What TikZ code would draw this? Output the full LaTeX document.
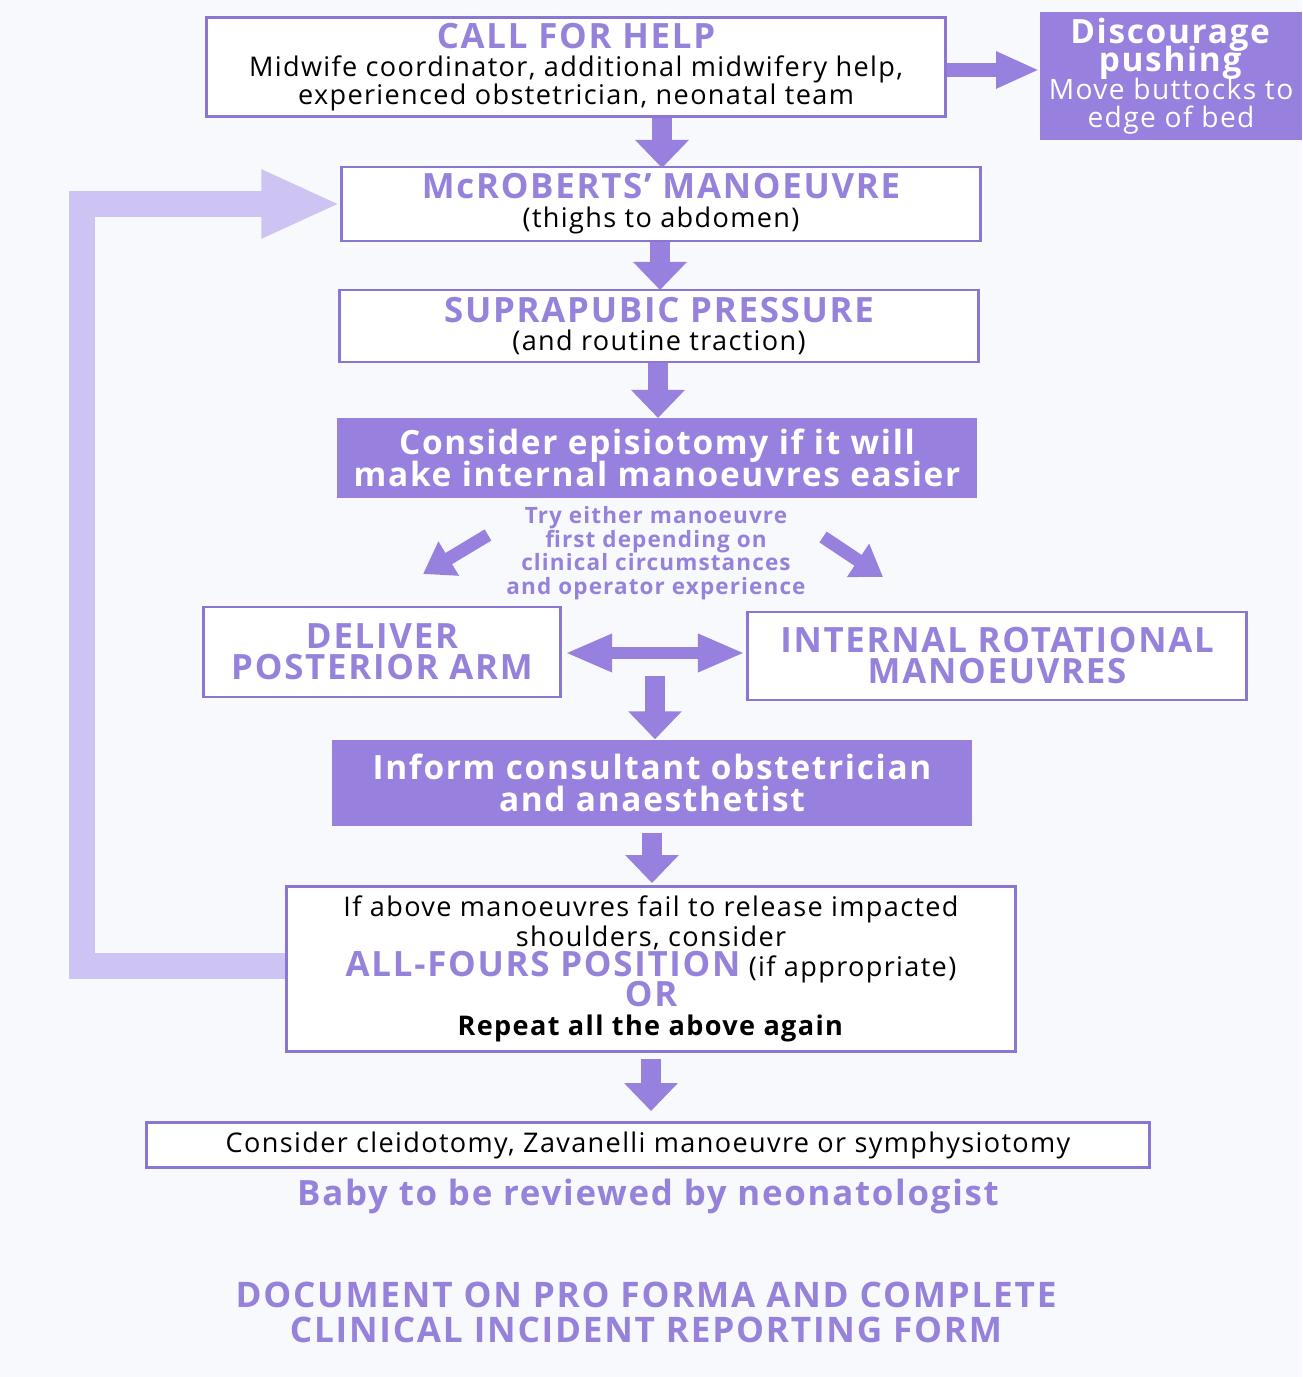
\documentclass[tikz,border=0pt]{standalone}
\usepackage{fontspec}
\setmainfont{Open Sans}[LetterSpace=5]
\usetikzlibrary{arrows.meta}
\definecolor{pmain}{RGB}{152,128,222}
\definecolor{ptext}{RGB}{150,130,218}
\definecolor{pline}{RGB}{140,118,212}
\definecolor{ploop}{RGB}{206,196,243}
\definecolor{paper}{RGB}{248,249,253}
\lineskiplimit=-100pt
\newcommand{\headtxt}[1]{{\fontsize{9.9}{10}\selectfont\bfseries\color{ptext}#1}}

\tikzset{
  stepbox/.style={draw=pline, line width=0.8pt, fill=white, align=center, inner sep=0pt,
    font=\fontsize{7.7}{8}\selectfont},
  darkbox/.style={fill=pmain, text=white, align=center, inner sep=0pt,
    font=\fontsize{9.5}{9}\selectfont\bfseries},
  blockarrow/.style={pmain, line width=0.2cm, -{Triangle[length=0.28cm,width=0.52cm]}},
  thinarrow/.style={pmain, line width=0.14cm, -{Triangle[length=0.43cm,width=0.34cm]}},
  sidearrow/.style={pmain, line width=0.13cm, -{Triangle[length=0.3cm,width=0.38cm]}},
  looparrow/.style={ploop, line width=0.26cm, -{Triangle[length=0.79cm,width=0.63cm]}}
}

\begin{document}
\begin{tikzpicture}[x=0.01cm,y=-0.01cm]
  \useasboundingbox (0,0) rectangle (1302,1377);
  \fill[paper] (0,0) rectangle (1302,1377);

  % boxes
  \node[stepbox, minimum width=7.39cm, minimum height=0.99cm, font=\fontsize{7.7}{7.9}\selectfont] (help) at (576,67)
    {\headtxt{CALL FOR HELP}\\ Midwife coordinator, additional midwifery help,\\ experienced obstetrician, neonatal team};
  \node[darkbox, minimum width=2.62cm, minimum height=1.28cm, font=\fontsize{9.5}{8}\selectfont] (disc) at (1171,76)
    {\textbf{Discourage}\\ \textbf{pushing}\\ {\fontsize{8}{8}\selectfont Move buttocks to}\\ {\fontsize{8}{8}\selectfont edge of bed}};
  \node[stepbox, minimum width=6.38cm, minimum height=0.74cm, font=\fontsize{7.7}{8.2}\selectfont] (mcr) at (661,204)
    {\headtxt{McROBERTS’ MANOEUVRE}\\ (thighs to abdomen)};
  \node[stepbox, minimum width=6.38cm, minimum height=0.72cm, font=\fontsize{7.7}{8.2}\selectfont] (supra) at (659,326)
    {\headtxt{SUPRAPUBIC PRESSURE}\\ (and routine traction)};
  \node[darkbox, minimum width=6.40cm, minimum height=0.80cm] (episio) at (657,458)
    {Consider episiotomy if it will\\ make internal manoeuvres easier};
  \node[align=center, text=ptext, font=\fontsize{6.4}{6.7}\selectfont\bfseries] (either) at (656,553)
    {Try either manoeuvre\\ first depending on\\ clinical circumstances\\ and operator experience};
  \node[stepbox, minimum width=3.57cm, minimum height=0.90cm, font=\fontsize{9.9}{8.8}\selectfont\bfseries, text=ptext] (deliver) at (382,652)
    {DELIVER\\ POSTERIOR ARM};
  \node[stepbox, minimum width=4.99cm, minimum height=0.88cm, font=\fontsize{9.9}{8.8}\selectfont\bfseries, text=ptext] (internal) at (997,656)
    {INTERNAL ROTATIONAL\\ MANOEUVRES};
  \node[darkbox, minimum width=6.39cm, minimum height=0.86cm] (inform) at (652,783)
    {Inform consultant obstetrician\\ and anaesthetist};
  \node[stepbox, minimum width=7.28cm, minimum height=1.65cm, font=\fontsize{7.7}{8.5}\selectfont] (ifbox) at (651,969)
    {If above manoeuvres fail to release impacted\\ shoulders, consider\\
     \headtxt{ALL-FOURS POSITION} (if appropriate)\\ \headtxt{OR}\\ \textbf{Repeat all the above again}};
  \node[stepbox, minimum width=10.02cm, minimum height=0.45cm] (cleido) at (648,1145)
    {Consider cleidotomy, Zavanelli manoeuvre or symphysiotomy};
  \node[text=ptext, font=\fontsize{9.9}{10}\selectfont\bfseries] (baby) at (648,1196)
    {Baby to be reviewed by neonatologist};
  \node[align=center, text=ptext, font=\fontsize{10}{10}\selectfont\bfseries] (document) at (646,1312)
    {DOCUMENT ON PRO FORMA AND COMPLETE\\ CLINICAL INCIDENT REPORTING FORM};

  % arrows
  \draw[blockarrow] (help.south -| 662,0) -- (662,168);
  \draw[thinarrow] (help.east |- 0,70) -- (disc.west |- 0,70);
  \draw[blockarrow] (mcr.south -| 660,0) -- (660,290);
  \draw[blockarrow] (supra.south -| 658,0) -- (658,418);
  \coordinate (tl) at (488,535);
  \coordinate (bl) at (423,574);
  \coordinate (tr) at (823,537);
  \coordinate (br) at (883,577);
  \draw[sidearrow] (tl) -- (bl);
  \draw[sidearrow] (tr) -- (br);
  \draw[pmain, line width=0.12cm, {Triangle[length=0.47cm,width=0.35cm]}-{Triangle[length=0.47cm,width=0.35cm]}]
    (565,653) -- (745,653);
  \coordinate (split) at (655,676);
  \draw[blockarrow] (split) -- (split |- inform.north);
  \draw[blockarrow] ([yshift=-0.06cm]inform.south) -- ([yshift=0.02cm]inform.south |- ifbox.north);
  \draw[blockarrow] ([yshift=-0.06cm]ifbox.south) -- ([yshift=0.1cm]ifbox.south |- cleido.north);
  \draw[looparrow] (ifbox.west |- 0,966) -- (82,966) |- (mcr.west);
\end{tikzpicture}
\end{document}
